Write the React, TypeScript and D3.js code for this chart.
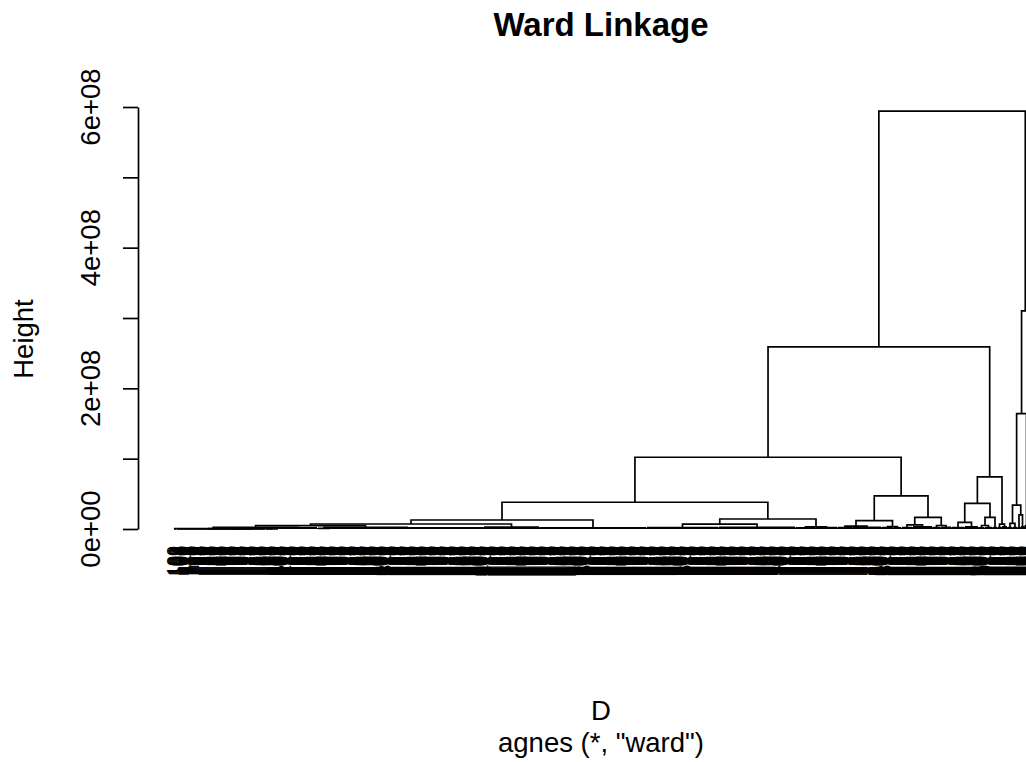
import React, { useEffect, useRef } from 'react';
import * as d3 from 'd3';

// Ward dendrogram (agnes). Heights are in units of 1e8.
// Leaf groups, left to right: how many leaves, and the height they are joined at.
const bundleSizes = [3, 64, 25, 13, 39, 13, 153, 56, 107, 72, 77, 20, 22, 15, 29, 12, 8,
  11, 20, 8, 11, 13, 14, 6, 8, 5, 4, 6, 5, 5, 3, 4, 4, 1];
const bundleHeights = [0.002, 0.003, 0.003, 0.003, 0.015, 0.01, 0.018, 0.028, 0.015, 0.02,
  0.025, 0.015, 0.02, 0.02, 0.025, 0.02, 0.015, 0.02, 0.03, 0.02, 0.025, 0.02, 0.03, 0.015,
  0.02, 0.02, 0.02, 0.03, 0.02, 0.02, 0.02, 0.03, 0.05, 0];

// merge table in the style of hclust$merge: negative = leaf group, positive = earlier row
const merges = [
  [-2, -3], [1, -4], [-1, 2], [3, -5], [-6, -7], [4, 5], [6, -8], [7, -9],
  [-10, -11], [-12, -13], [9, 10], [8, 11],
  [-14, -15], [-16, -17], [13, 14], [-18, -19], [-20, -21], [16, 17], [15, 18], [12, 19],
  [-22, -23], [-24, -25], [22, -26], [21, 23], [-27, -28], [24, 25], [20, 26],
  [-29, -30], [-31, -32], [28, 29], [30, -33], [31, -34], [27, 32],
];
const mergeHeights = [
  0.004, 0.005, 0.006, 0.024, 0.025, 0.047, 0.071, 0.128,
  0.07, 0.03, 0.142, 0.38,
  0.04, 0.035, 0.118, 0.06, 0.05, 0.166, 0.47, 1.02,
  0.095, 0.05, 0.166, 0.365, 0.07, 0.74, 2.59,
  0.08, 0.2, 0.34, 1.64, 3.1, 5.94,
];

const yTicks = [0, 1, 2, 3, 4, 5, 6];
const yTickLabels = ['0e+00', '', '2e+08', '', '4e+08', '', '6e+08'];

// leaf labels are observation numbers
const firstLeafId = 100;

const title = 'Ward Linkage';
const xLabel = 'D';
const subTitle = 'agnes (*, "ward")';
const yLabel = 'Height';

const FONT = '"Liberation Sans", Arial, Helvetica, sans-serif';

const WardDendrogram = () => {
  const chartRef = useRef<SVGSVGElement>(null);

  useEffect(() => {
    const svg = d3.select(chartRef.current);
    svg.selectAll('*').remove();

    const width = 1026;
    const height = 762;
    svg.attr('width', width).attr('height', height);

    const nLeaves = d3.sum(bundleSizes);
    const x = d3.scaleLinear().domain([0, nLeaves - 1]).range([174, 1029]);
    const y = d3.scaleLinear().domain([0, 6]).range([529, 107]);

    // walk the merge table from the root, laying leaves out left to right
    let next = 0;
    const bundleStart: number[] = [];
    const nodes: { lc: number; lh: number; rc: number; rh: number; h: number }[] = [];
    const place = (id: number): { c: number; h: number } => {
      if (id < 0) {
        const b = -id - 1;
        bundleStart[b] = next;
        next += bundleSizes[b];
        return { c: bundleStart[b] + (bundleSizes[b] - 1) / 2, h: bundleHeights[b] };
      }
      const [l, r] = merges[id - 1];
      const L = place(l);
      const R = place(r);
      const h = mergeHeights[id - 1];
      nodes.push({ lc: L.c, lh: L.h, rc: R.c, rh: R.h, h });
      return { c: (L.c + R.c) / 2, h };
    };
    place(merges.length);

    const tree = svg.append('g')
      .attr('fill', 'none')
      .attr('stroke', '#000')
      .attr('stroke-width', 1.7);

    // low-level groups: a comb of leaves
    tree.selectAll('.bundle')
      .data(bundleSizes.map((n, i) => ({ n, h: bundleHeights[i], start: bundleStart[i] })))
      .enter()
      .append('path')
      .attr('class', 'bundle')
      .attr('d', d => {
        if (d.n === 1 && d.h === 0) return '';
        let p = `M${x(d.start)},${y(d.h)}H${x(d.start + d.n - 1)}`;
        for (let j = 0; j < d.n; j++) p += `M${x(d.start + j)},${y(d.h)}V${y(0)}`;
        return p;
      });

    // merges
    tree.selectAll('.merge')
      .data(nodes)
      .enter()
      .append('path')
      .attr('class', 'merge')
      .attr('d', d => `M${x(d.lc)},${y(d.lh)}V${y(d.h)}H${x(d.rc)}V${y(d.rh)}`);

    // leaf labels
    const labels = svg.append('g')
      .style('font-family', FONT)
      .style('font-size', '18px')
      .attr('fill', '#000');
    labels.selectAll('text')
      .data(d3.range(nLeaves))
      .enter()
      .append('text')
      .attr('transform', j => `translate(${x(j)},546) rotate(-90)`)
      .attr('text-anchor', 'end')
      .attr('dy', '0.35em')
      .text(j => String(firstLeafId + j));

    // y axis
    const axis = svg.append('g')
      .attr('transform', 'translate(138,0)')
      .call(d3.axisLeft(y).tickValues(yTicks).tickSize(15).tickSizeOuter(0).tickFormat(() => ''));
    axis.select('.domain').attr('stroke', '#000').attr('stroke-width', 1.7);
    axis.selectAll('.tick line').attr('stroke', '#000').attr('stroke-width', 1.7);
    axis.selectAll('.tick text').remove();

    svg.append('g')
      .style('font-family', FONT)
      .style('font-size', '27.5px')
      .selectAll('text')
      .data(yTicks)
      .enter()
      .append('text')
      .attr('transform', d => `translate(100,${y(d)}) rotate(-90)`)
      .attr('text-anchor', 'middle')
      .text((d, i) => yTickLabels[i]);

    const cx = 601;
    svg.append('text')
      .attr('x', cx).attr('y', 36)
      .attr('text-anchor', 'middle')
      .style('font-family', FONT).style('font-size', '33px').style('font-weight', 'bold')
      .text(title);

    svg.append('text')
      .attr('x', cx).attr('y', 720)
      .attr('text-anchor', 'middle')
      .style('font-family', FONT).style('font-size', '27.5px')
      .text(xLabel);

    svg.append('text')
      .attr('x', cx).attr('y', 752)
      .attr('text-anchor', 'middle')
      .style('font-family', FONT).style('font-size', '27.5px')
      .text(subTitle);

    svg.append('text')
      .attr('transform', 'translate(33,339) rotate(-90)')
      .attr('text-anchor', 'middle')
      .style('font-family', FONT).style('font-size', '27.5px')
      .text(yLabel);
  }, []);

  return (
    <div style={{ position: 'absolute', left: 0, top: 0, width: 1026, height: 762, overflow: 'hidden', background: '#fff' }}>
      <svg ref={chartRef} style={{ display: 'block' }}></svg>
    </div>
  );
};

export default function App() {
  return <WardDendrogram />;
}
